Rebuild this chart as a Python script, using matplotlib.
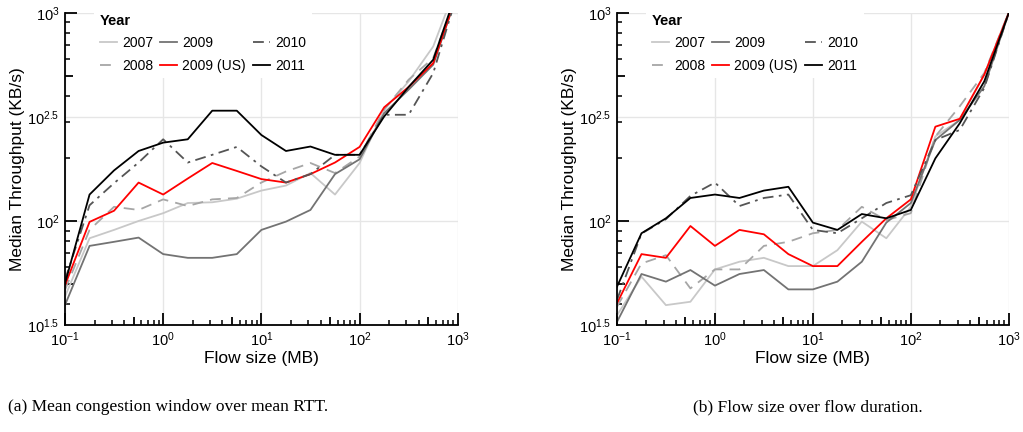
import matplotlib
matplotlib.use('Agg')
import matplotlib.pyplot as plt
from matplotlib.ticker import FixedLocator, FixedFormatter

plt.rcParams['font.family'] = ['Liberation Sans', 'DejaVu Sans']
plt.rcParams['mathtext.fontset'] = 'custom'
plt.rcParams['mathtext.rm'] = 'Liberation Sans'
plt.rcParams['mathtext.it'] = 'Liberation Sans:italic'
plt.rcParams['mathtext.bf'] = 'Liberation Sans:bold'

# flow sizes (MB), quarter decade steps
flow_mb = [0.1, 0.178, 0.316, 0.562, 1, 1.78, 3.16, 5.62, 10, 17.8, 31.6, 56.2,
           100, 178, 316, 562, 1000]

# (a) mean cwnd / mean RTT, KB/s
a_2007 = [43.3, 82.6, 90.6, 100, 109, 122, 123, 128, 140, 148, 170, 134, 190, 343, 469, 690, 1413]
a_2008 = [46.6, 90.6, 117, 113, 127, 118, 127, 129, 153, 173, 190, 170, 204, 343, 478, 607, 1259]
a_2009 = [39.4, 75.9, 79.4, 83.2, 69.3, 66.5, 66.5, 69.3, 90.6, 99.3, 113, 168, 198, 330, 428, 564, 1259]
a_2009us = [49, 99, 112, 153, 134, 160, 190, 174, 159, 153, 168, 191, 227, 352, 441, 574, 1259]
a_2010 = [52, 119, 152, 191, 247, 191, 208, 227, 183, 153, 168, 208, 208, 324, 324, 514, 1259]
a_2011 = [50, 134, 175, 217, 238, 247, 339, 339, 259, 217, 228, 208, 208, 318, 441, 596, 1318]

# (b) flow size / flow duration, KB/s
b_2007 = [35.2, 54.0, 39.4, 40.9, 58.5, 63.7, 66.5, 60.7, 60.7, 72.4, 99.3, 82.6, 117, 255, 306, 505, 1010]
b_2008 = [38.7, 62.5, 68.5, 47.4, 58.5, 58.5, 75.9, 79.4, 87.3, 90.6, 117, 101, 109, 255, 356, 514, 1000]
b_2009 = [32.7, 55.6, 51.1, 58.1, 48.9, 55.6, 58.1, 46.9, 46.9, 51.1, 63.7, 98.2, 122, 245, 306, 444, 1000]
b_2009us = [40.2, 69.3, 66.5, 94.6, 75.9, 90.6, 86.3, 69.3, 60.7, 60.7, 79.4, 103, 127, 284, 310, 505, 1000]
b_2010 = [41.7, 87, 102, 132, 153, 118, 129, 134, 90.6, 87.3, 103, 122, 133, 245, 274, 436, 1000]
b_2011 = [48.3, 87.3, 103, 129, 134, 129, 140, 146, 98.2, 90.6, 108, 103, 113, 200, 295, 469, 1000]

years = ['2007', '2008', '2009', '2009 (US)', '2010', '2011']
colors = ['#c8c8c8', '#a6a6a6', '#737373', 'red', '#555555', 'black']
styles = ['-', (0, (6, 4)), '-', '-', (0, (6, 3, 1.5, 3)), '-']

ytick_vals = [10**1.5, 50, 100, 10**2.5, 500, 1000]
ytick_labs = ['$10^{1.5}$', '', '$10^{2}$', '$10^{2.5}$', '', '$10^{3}$']
xtick_vals = [0.1, 0.5, 1, 5, 10, 50, 100, 500, 1000]
xtick_labs = ['$10^{-1}$', '', '$10^{0}$', '', '$10^{1}$', '', '$10^{2}$', '', '$10^{3}$']


def draw(ax, series):
    for vals, lab, c, ls in zip(series, years, colors, styles):
        ax.plot(flow_mb, vals, color=c, linestyle=ls, linewidth=1.3, label=lab)
    ax.set_xscale('log')
    ax.set_yscale('log')
    ax.set_xlim(0.1, 1000)
    ax.set_ylim(10**1.5, 1000)
    for s in ['top', 'right']:
        ax.spines[s].set_visible(False)
    for s in ['left', 'bottom']:
        ax.spines[s].set_linewidth(1.3)

    ax.yaxis.set_major_locator(FixedLocator(ytick_vals))
    ax.yaxis.set_major_formatter(FixedFormatter(ytick_labs))
    ax.yaxis.set_minor_locator(FixedLocator([40, 60, 70, 80, 90, 200, 300, 400, 600, 700, 800, 900]))
    ax.yaxis.set_minor_formatter(FixedFormatter([]))
    minx = []
    for d in [0.1, 1, 10, 100]:
        minx += [d * m for m in [2, 3, 4, 6, 7, 8, 9]]
    ax.xaxis.set_major_locator(FixedLocator(xtick_vals))
    ax.xaxis.set_major_formatter(FixedFormatter(xtick_labs))
    ax.xaxis.set_minor_locator(FixedLocator(minx))
    ax.xaxis.set_minor_formatter(FixedFormatter([]))

    ax.tick_params(which='major', direction='in', length=8.5, width=1.3, labelsize=10.5, pad=4)
    ax.tick_params(which='minor', direction='in', length=3.5, width=1.1)
    ax.grid(True, which='major', color='#e6e6e6', linewidth=1.0)
    ax.set_axisbelow(True)

    yt = ax.yaxis.get_major_ticks()
    for i in [0, 3]:
        yt[i].tick1line.set_visible(False)
    for i in [1, 4]:
        yt[i].gridline.set_visible(False)
        yt[i].tick1line.set_markersize(6)
    xt = ax.xaxis.get_major_ticks()
    for i in [1, 3, 5, 7]:
        xt[i].gridline.set_visible(False)
        xt[i].tick1line.set_markersize(6)

    ax.set_xlabel('Flow size (MB)', fontsize=12.5)
    ax.set_ylabel('Median Throughput (KB/s)', fontsize=12.5)
    ax.xaxis.set_label_coords(0.5, -0.083)
    ax.yaxis.set_label_coords(-0.102, 0.5)

    h, l = ax.get_legend_handles_labels()
    leg = ax.legend(h, l, ncol=3, loc='upper left', bbox_to_anchor=(0.075, 1.015),
                    title='Year', fontsize=10, title_fontproperties={'weight': 'bold', 'size': 10.5},
                    frameon=True, fancybox=False, framealpha=1, edgecolor='none',
                    handlelength=1.2, handletextpad=0.4, columnspacing=0.5,
                    labelspacing=0.6, borderpad=0.4, borderaxespad=0)
    leg._legend_box.align = 'left'
    leg.set_zorder(5)


fig = plt.figure(figsize=(10.23, 4.32), dpi=100)
ax1 = fig.add_axes([0.0635, 0.2477, 0.384, 0.7223])
ax2 = fig.add_axes([0.6031, 0.2477, 0.383, 0.7223])

draw(ax1, [a_2007, a_2008, a_2009, a_2009us, a_2010, a_2011])
draw(ax2, [b_2007, b_2008, b_2009, b_2009us, b_2010, b_2011])

fig.text(8 / 1023, 0.058, '(a) Mean congestion window over mean RTT.', fontsize=12.5,
         family='Liberation Serif', va='center')
fig.text(693 / 1023, 0.058, '(b) Flow size over flow duration.', fontsize=12.5,
         family='Liberation Serif', va='center')

fig.savefig('out.png', dpi=100)
